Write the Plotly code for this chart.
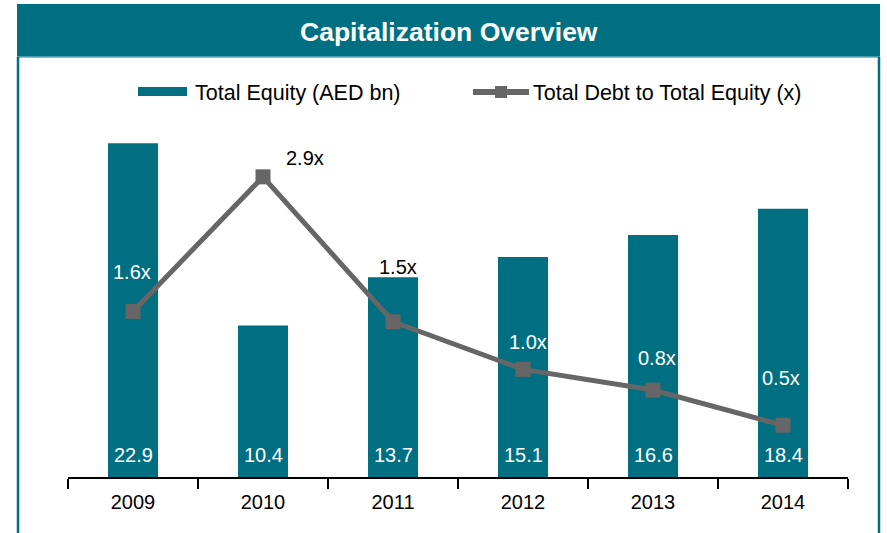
import plotly.graph_objects as go

years = ["2009", "2010", "2011", "2012", "2013", "2014"]
equity = [22.9, 10.4, 13.7, 15.1, 16.6, 18.4]
equity_labels = ["22.9", "10.4", "13.7", "15.1", "16.6", "18.4"]
debt_ratio = [1.6, 2.9, 1.5, 1.04, 0.84, 0.5]
ratio_labels = ["1.6x", "2.9x", "1.5x", "1.0x", "0.8x", "0.5x"]

# label styling (position offsets in px and colours)
ratio_xshift = [-1, 42, 5, 5, 4, -2]
ratio_yshift = [39, 19, 55, 27, 32, 47]
ratio_colors = ["white", "black", "black", "white", "white", "white"]

TEAL = "#006F82"
GREY = "#666666"
FONT = "Arial, Liberation Sans, sans-serif"

fig = go.Figure()
fig.add_trace(go.Bar(x=years, y=equity, marker=dict(color=TEAL, line=dict(width=0)),
                     name="Total Equity (AED bn)", yaxis="y", showlegend=False))
fig.add_trace(go.Scatter(x=years, y=debt_ratio, mode="lines+markers",
                         line=dict(color=GREY, width=5),
                         marker=dict(symbol="square", size=15, color=GREY),
                         name="Total Debt to Total Equity (x)", yaxis="y2", showlegend=False))

ann = []
for i, (v, t) in enumerate(zip(equity, equity_labels)):
    ann.append(dict(x=i, y=0, xref="x", yref="y", text=t, showarrow=False,
                    yanchor="middle", yshift=22, font=dict(size=20, color="white", family=FONT)))
for i, (v, t, xs, ys, c) in enumerate(zip(debt_ratio, ratio_labels, ratio_xshift, ratio_yshift, ratio_colors)):
    ann.append(dict(x=i, y=v, xref="x", yref="y2", text=t, showarrow=False,
                    xshift=xs, yshift=ys, font=dict(size=20, color=c, family=FONT)))

# plot area pixel geometry: left 68, right 848, top 120, bottom 477
L, R, T, B = 68, 848, 120, 477
def px(x):
    return (x - L) / (R - L)
def py(y):
    return (B - y) / (B - T)

shapes = [
    # title bar
    dict(type="rect", xref="paper", yref="paper", x0=px(17), x1=px(880), y0=py(57), y1=py(4),
         fillcolor=TEAL, line=dict(width=0), layer="below"),
    dict(type="line", xref="paper", yref="paper", x0=px(17), x1=px(880), y0=py(57), y1=py(57),
         line=dict(color="#5FA8B4", width=1.5)),
    # frame
    dict(type="line", xref="paper", yref="paper", x0=px(18), x1=px(18), y0=py(57), y1=py(540),
         line=dict(color=TEAL, width=2.5)),
    dict(type="line", xref="paper", yref="paper", x0=px(879), x1=px(879), y0=py(57), y1=py(540),
         line=dict(color=TEAL, width=2.5)),
    # legend swatches
    dict(type="rect", xref="paper", yref="paper", x0=px(138), x1=px(187), y0=py(96), y1=py(87),
         fillcolor=TEAL, line=dict(width=0)),
    dict(type="line", xref="paper", yref="paper", x0=px(473), x1=px(529), y0=py(92), y1=py(92),
         line=dict(color=GREY, width=6)),
    dict(type="rect", xref="paper", yref="paper", x0=px(495), x1=px(507), y0=py(98), y1=py(86),
         fillcolor=GREY, line=dict(width=0)),
]

ann += [
    dict(xref="paper", yref="paper", x=px(449), y=py(32), xanchor="center", yanchor="middle",
         text="<b>Capitalization Overview</b>",
         showarrow=False, font=dict(size=26.5, color="white", family=FONT)),
    dict(xref="paper", yref="paper", x=px(193), y=py(93), xanchor="left", yanchor="middle",
         text="Total Equity (AED bn)",
         showarrow=False, font=dict(size=21.5, color="black", family=FONT)),
    dict(xref="paper", yref="paper", x=px(531), y=py(93), xanchor="left", yanchor="middle",
         text="Total Debt to Total Equity (x)",
         showarrow=False, font=dict(size=21.5, color="black", family=FONT)),
]

fig.update_layout(
    width=887, height=533,
    margin=dict(l=L, r=887 - R, t=T, b=533 - B, autoexpand=False),
    paper_bgcolor="white", plot_bgcolor="white",
    bargap=0.615,
    font=dict(family=FONT, size=20, color="black"),
    xaxis=dict(type="category", range=[-0.5, 5.5], autorange=False,
               showline=True, linecolor="black", linewidth=1.5,
               ticks="outside", tickson="boundaries", ticklen=10, tickwidth=1.5, tickcolor="black",
               ticklabelstandoff=6,
               showgrid=False, tickfont=dict(size=20, color="black", family=FONT)),
    yaxis=dict(range=[0, 24.49], visible=False, showgrid=False),
    yaxis2=dict(range=[0, 3.449], visible=False, overlaying="y", showgrid=False),
    shapes=shapes, annotations=ann,
)

fig.write_html("out.html", config={"displayModeBar": False},
               post_script="document.body.style.margin='0px';")
